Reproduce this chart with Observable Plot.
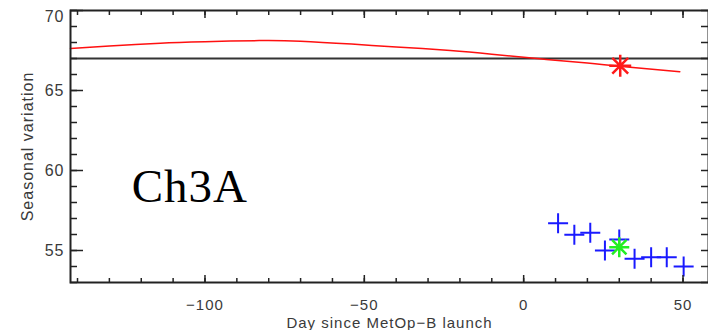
<!DOCTYPE html>
<html>
<head>
<meta charset="utf-8">
<script src="https://cdn.jsdelivr.net/npm/d3@7"></script>
<script src="https://cdn.jsdelivr.net/npm/@observablehq/plot@0.6"></script>
<style>
  html, body { margin: 0; padding: 0; background: #fff; }
  #chart svg { display: block; }
</style>
</head>
<body>
<div id="chart"></div>
<script>
// ---- data ----
const redDays = [-142.2, -130, -114, -100, -83, -70, -54, -40, -23, -10, 5, 20, 30, 49];
const redVals = [67.63, 67.78, 67.96, 68.05, 68.12, 68.08, 67.9, 67.72, 67.5, 67.27, 66.98, 66.72, 66.52, 66.17];
const blueDays = [10.8, 15.9, 20.9, 25.5, 30, 34.8, 40, 44.9, 50.2];
const blueVals = [56.71, 55.98, 56.11, 55.0, 55.68, 54.48, 54.58, 54.58, 54.0];
const refValue = 67;
const redStarDay = [30.3];
const redStarVal = [66.55];
const greenStarDay = [30];
const greenStarVal = [55.21];
const chLabel = ["Ch3A"];
const xMajor = [-100, -50, 0, 50];
const xMinor = d3.range(-140, 51, 10);
const yMajor = [55, 60, 65, 70];
const yMinor = d3.range(53, 71, 1);
const xTitle = "Day since MetOp\u2212B launch";
const yTitle = "Seasonal variation";

const curve = redDays.map((d, i) => ({day: d, value: redVals[i]}));
const blue = blueDays.map((d, i) => ({day: d, value: blueVals[i]}));
const redStar = redStarDay.map((d, i) => ({day: d, value: redStarVal[i]}));
const greenStar = greenStarDay.map((d, i) => ({day: d, value: greenStarVal[i]}));

const fmt = d => d < 0 ? "\u2212" + Math.abs(d) : String(d);

// custom stroke symbols
const plusSym = { draw(ctx, size) { const r = Math.sqrt(size / Math.PI);
  ctx.moveTo(-r, 0); ctx.lineTo(r, 0); ctx.moveTo(0, -r); ctx.lineTo(0, r); } };
const starSym = { draw(ctx, size) { const r = Math.sqrt(size / Math.PI); const s = r * 0.72;
  ctx.moveTo(-r, 0); ctx.lineTo(r, 0); ctx.moveTo(0, -r); ctx.lineTo(0, r);
  ctx.moveTo(-s, -s); ctx.lineTo(s, s); ctx.moveTo(-s, s); ctx.lineTo(s, -s); } };

const axisColor = "#222";
const textColor = "#3a3a3a";
const font = "Liberation Sans, Arial, sans-serif";

const chart = Plot.plot({
  width: 708,
  height: 330,
  marginLeft: 70,
  marginRight: 0,
  marginTop: 10,
  marginBottom: 48,
  style: {fontFamily: font, background: "#fff", overflow: "visible"},
  x: {domain: [-142.2, 58], axis: null},
  y: {domain: [53, 70], axis: null},
  marks: [
    // reference line
    Plot.ruleY([refValue], {stroke: "#333", strokeWidth: 2}),
    // red seasonal curve
    Plot.line(curve, {x: "day", y: "value", stroke: "#ff1010", strokeWidth: 1.5, curve: "natural"}),
    // blue crosses
    Plot.dot(blue, {x: "day", y: "value", symbol: plusSym, r: 10, fill: "none", stroke: "#1a1aff", strokeWidth: 2}),
    // stars
    Plot.dot(redStar, {x: "day", y: "value", symbol: starSym, r: 11, fill: "none", stroke: "#ff1a1a", strokeWidth: 2.5}),
    Plot.dot(greenStar, {x: "day", y: "value", symbol: starSym, r: 10, fill: "none", stroke: "#22ee22", strokeWidth: 2.5}),
    // Ch3A label
    Plot.text(chLabel, {x: () => -123, y: () => 58.06, text: d => d, textAnchor: "start", lineAnchor: "bottom",
      fontFamily: "Liberation Serif, Times New Roman, serif", fontSize: 47, fill: "#000"}),
    // ticks (inward)
    Plot.axisY(yMinor, {anchor: "left", tickSize: -7, tickFormat: () => "", stroke: axisColor, strokeWidth: 1.5, label: null}),
    Plot.axisY(yMajor, {anchor: "left", tickSize: -13, tickFormat: () => "", stroke: axisColor, strokeWidth: 1.5, label: null}),
    Plot.axisY(yMinor, {anchor: "right", tickSize: -8, tickFormat: () => "", stroke: axisColor, strokeWidth: 1.5, label: null}),
    Plot.axisX(xMinor, {anchor: "bottom", tickSize: -4, tickFormat: () => "", stroke: axisColor, strokeWidth: 1.5, label: null}),
    Plot.axisX(xMajor, {anchor: "bottom", tickSize: -7, tickFormat: () => "", stroke: axisColor, strokeWidth: 1.5, label: null}),
    Plot.axisX(xMinor, {anchor: "top", tickSize: -4, tickFormat: () => "", stroke: axisColor, strokeWidth: 1.5, label: null}),
    Plot.axisX(xMajor, {anchor: "top", tickSize: -7, tickFormat: () => "", stroke: axisColor, strokeWidth: 1.5, label: null}),
    // tick labels
    Plot.text(yMajor.filter(d => d < 70), {y: d => d, frameAnchor: "left", dx: -6, text: fmt, textAnchor: "end",
      lineAnchor: "middle", fontSize: 16, fill: textColor}),
    Plot.text(yMajor.filter(d => d >= 70), {y: d => d, frameAnchor: "left", dx: -6, dy: 6, text: fmt, textAnchor: "end",
      lineAnchor: "middle", fontSize: 16, fill: textColor}),
    Plot.text(xMajor, {x: d => d, frameAnchor: "bottom", dy: 23, text: fmt, lineAnchor: "middle", textAnchor: "middle",
      fontSize: 15, fill: textColor}),
    // axis titles
    Plot.text([xTitle], {frameAnchor: "bottom", dy: 41, text: d => d, lineAnchor: "middle", textAnchor: "middle",
      fontSize: 15, fill: textColor}),
    Plot.text([yTitle], {frameAnchor: "left", dx: -43, rotate: -90, text: d => d, lineAnchor: "middle", textAnchor: "middle",
      fontSize: 16, fill: textColor}),
    // frame
    Plot.frame({stroke: axisColor, strokeWidth: 2})
  ]
});
chart.querySelectorAll("text").forEach(t => t.style.letterSpacing = t.getAttribute("font-size") === "47" ? "0" : "1px");
document.getElementById("chart").appendChild(chart);
</script>
</body>
</html>
